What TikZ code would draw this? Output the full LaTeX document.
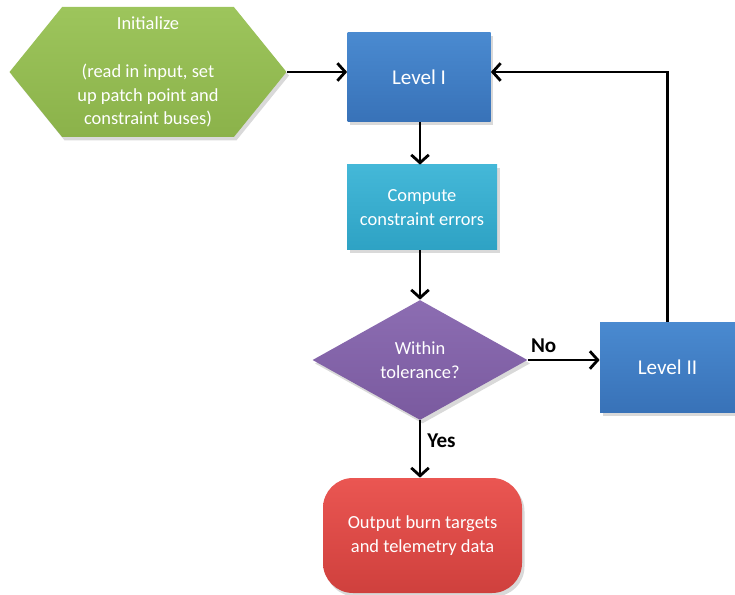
\documentclass[tikz,border=0pt]{standalone}
\usepackage{fontspec}
\setmainfont{Carlito}
\usetikzlibrary{shapes.geometric, shapes.symbols, shadows, arrows.meta}
\definecolor{initgreen}{HTML}{9DC55C}
\definecolor{initgreendk}{HTML}{8BB24A}
\definecolor{levelblue}{HTML}{4A8AD0}
\definecolor{levelbluedk}{HTML}{3872B8}
\definecolor{compcyan}{HTML}{44B8D8}
\definecolor{compcyandk}{HTML}{2EA2C4}
\definecolor{checkpurple}{HTML}{8C6DB2}
\definecolor{checkpurpledk}{HTML}{7A5A9F}
\definecolor{outred}{HTML}{EA5652}
\definecolor{outreddk}{HTML}{CF403D}
\tikzset{
	box/.style={draw=none, text=white, align=center, inner sep=0pt,
		font=\fontsize{10.5}{13.6}\selectfont,
		drop shadow={opacity=0.3, shadow xshift=0.05cm, shadow yshift=-0.07cm}},
	levelbox/.style={box, rectangle, top color=levelblue, bottom color=levelbluedk,
		font=\fontsize{12}{14}\selectfont},
	flow/.style={-{Straight Barb[length=4.5pt, width=10pt]}, line width=1.6pt},
	answer/.style={font=\bfseries\fontsize{12}{14}\selectfont, text=black}
}

\begin{document}
\begin{tikzpicture}
		\useasboundingbox (0,0) rectangle (14.7,-11.9);
		
		\node[box, signal, signal to=west and east, signal pointer angle=102, minimum width=5.54cm, minimum height=2.6cm, top color=initgreen, bottom color=initgreendk] (init) at (2.96,-1.44) {Initialize\\[13.6pt](read in input, set\\up patch point and\\constraint buses)};
		\node[levelbox, minimum width=2.86cm, minimum height=1.78cm] (level1) at (8.38,-1.55) {Level I};
		\node[box, rectangle, minimum width=3cm, minimum height=1.7cm, top color=compcyan, bottom color=compcyandk] (compute) at (8.44,-4.15) {Compute\\constraint errors};
		\node[box, diamond, minimum width=4.3cm, minimum height=2.4cm, top color=checkpurple, bottom color=checkpurpledk] (check) at (8.4,-7.2) {Within\\tolerance?};
		\node[levelbox, minimum width=2.7cm, minimum height=1.8cm] (level2) at (13.35,-7.34) {Level II};
		\node[box, rectangle, rounded corners=0.6cm, minimum width=3.98cm, minimum height=2.3cm, top color=outred, bottom color=outreddk] (output) at (8.45,-10.71) {Output burn targets\\and telemetry data};
		
		\draw [flow] (init.east) -- (init.east -| level1.west);
		\draw [flow] (level1.south -| 8.4,0) -- (compute.north -| 8.4,0);
		\draw [flow] (compute.south -| 8.4,0) -- (check.north);
		\draw [flow] (check.east) -- node[answer, pos=0.22, above] {No} (check.east -| level2.west);
		\draw [flow] (check.south) -- node[answer, pos=0.36, right] {Yes} (output.north -| 8.4,0);
		\draw [flow] (level2.north) |- (init.east -| level1.east);
	\end{tikzpicture}
\end{document}
